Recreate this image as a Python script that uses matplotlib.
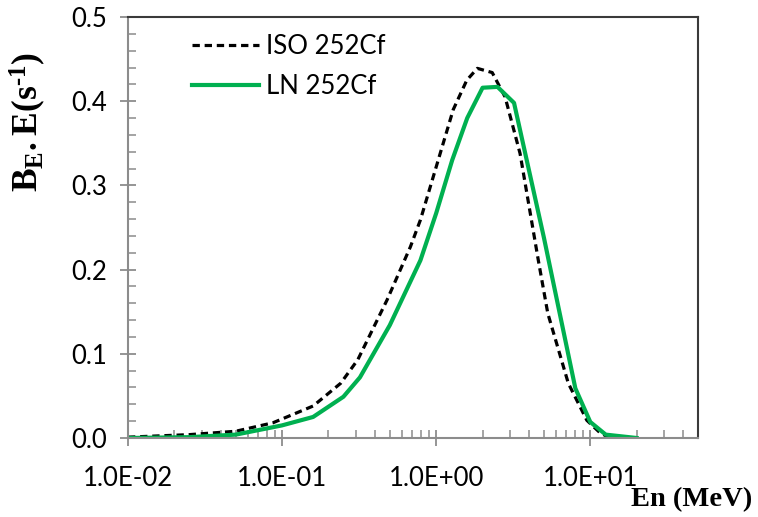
import numpy as np
import matplotlib
matplotlib.use('Agg')
import matplotlib.pyplot as plt
from matplotlib.ticker import FixedLocator, FuncFormatter, LogLocator, MultipleLocator, NullFormatter

# ISO 252Cf spectrum (energy in MeV, B_E.E in s^-1)
iso_energy = [0.01, 0.025, 0.05, 0.087, 0.159, 0.24, 0.31, 0.48, 0.68, 0.79,
              1.0, 1.29, 1.58, 1.85, 2.31, 2.8, 3.5, 4.6, 5.3, 7.2,
              9.5, 11.6, 13.5]
iso_value = [0.001, 0.004, 0.008, 0.018, 0.038, 0.065, 0.093, 0.164, 0.227, 0.259,
             0.322, 0.390, 0.425, 0.439, 0.434, 0.405, 0.338, 0.211, 0.148, 0.065,
             0.021, 0.006, 0.000]

# LN 252Cf spectrum
ln_energy = [0.01, 0.025, 0.05, 0.1, 0.159, 0.25, 0.32, 0.5, 0.79, 1.0,
             1.27, 1.59, 2.0, 2.5, 3.2, 4.0, 5.0, 6.3, 8.0, 10.0,
             12.6, 20.0]
ln_value = [0.000, 0.001, 0.004, 0.015, 0.025, 0.049, 0.072, 0.134, 0.211, 0.267,
            0.330, 0.380, 0.416, 0.417, 0.398, 0.318, 0.238, 0.150, 0.059, 0.019,
            0.004, 0.000]

x_ticks = [0.01, 0.1, 1.0, 10.0]
y_ticks = [0.0, 0.1, 0.2, 0.3, 0.4, 0.5]

plt.rcParams['mathtext.fontset'] = 'custom'
plt.rcParams['mathtext.rm'] = 'Liberation Serif:bold'
plt.rcParams['mathtext.bf'] = 'Liberation Serif:bold'

fig = plt.figure(figsize=(7.58, 5.17), dpi=100)
ax = fig.add_axes([128/758, 1 - 438/517, 570/758, 421/517])

ax.plot(iso_energy, iso_value, color='black', lw=2.3, dashes=(2.3, 1.5), label='ISO 252Cf')
ax.plot(ln_energy, ln_value, color='#00B050', lw=3.0, label='LN 252Cf')

ax.set_xscale('log')
ax.set_xlim(0.01, 50)
ax.set_ylim(0, 0.5)

ax.xaxis.set_major_locator(FixedLocator(x_ticks))
ax.xaxis.set_major_formatter(FuncFormatter(lambda v, p: '%.1E' % v))
ax.xaxis.set_minor_locator(LogLocator(base=10, subs=np.arange(2, 10)))
ax.xaxis.set_minor_formatter(NullFormatter())
ax.yaxis.set_major_locator(FixedLocator(y_ticks))
ax.yaxis.set_major_formatter(FuncFormatter(lambda v, p: '%.1f' % v))
ax.yaxis.set_minor_locator(MultipleLocator(0.02))

axis_grey = '#8c8c8c'
for side in ['left', 'bottom']:
    ax.spines[side].set_color(axis_grey)
    ax.spines[side].set_linewidth(1.5)
for side in ['top', 'right']:
    ax.spines[side].set_color('#3a3a3a')
    ax.spines[side].set_linewidth(1.5)

ax.tick_params(which='major', direction='inout', length=12, width=1.3, color=axis_grey,
               labelsize=18.5, pad=9)
ax.tick_params(which='minor', direction='in', length=5.5, width=1.1, color=axis_grey)
ax.tick_params(axis='x', which='major', pad=14)
for lab in ax.get_xticklabels() + ax.get_yticklabels():
    lab.set_family('Lato')

leg = ax.legend(loc='upper left', bbox_to_anchor=(0.112, 0.96), frameon=False,
                prop={'family': 'Lato', 'size': 18.5}, handlelength=2.6,
                handletextpad=0.3, labelspacing=0.6, borderpad=0, borderaxespad=0)

fig.text(752/758, 1 - 500/517, 'En (MeV)', ha='right', va='center',
         family='Liberation Serif', weight='bold', fontsize=20.5)
fig.text(28/758, 1 - 122/517, r'$\mathbf{B_{E}.E(s^{\text{-}1})}$', ha='center', va='center',
         rotation=90, fontsize=25.5)

fig.savefig('out.png', dpi=100)
